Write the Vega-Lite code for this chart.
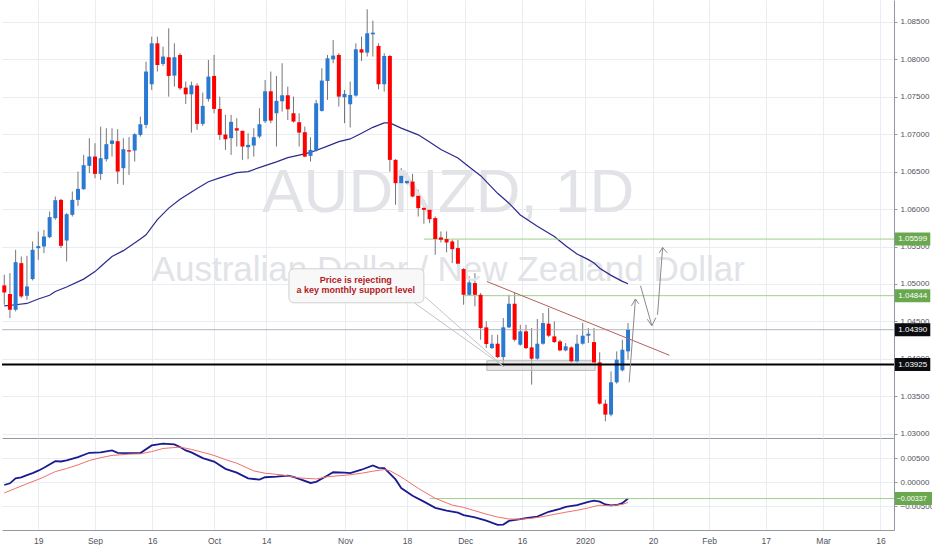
{
"$schema": "https://vega.github.io/schema/vega-lite/v6.json",
"padding": 0,
"background": "#ffffff",
"spacing": 0,
"config": {"view": {"stroke": null}, "font": "Liberation Sans", "scale": {"continuousPadding": 0}},
"datasets": {
"candles": [
{"t":-6,"o":1.04981,"h":1.05123,"l":1.04723,"c":1.04887},
{"t":-5,"o":1.04865,"h":1.05145,"l":1.04545,"c":1.04656},
{"t":-4,"o":1.04656,"h":1.05456,"l":1.04634,"c":1.05291},
{"t":-3,"o":1.05278,"h":1.05367,"l":1.04812,"c":1.04834},
{"t":-2,"o":1.04843,"h":1.05376,"l":1.04789,"c":1.04967},
{"t":-1,"o":1.05065,"h":1.05567,"l":1.05047,"c":1.05456},
{"t":0,"o":1.05478,"h":1.057,"l":1.05323,"c":1.05505},
{"t":1,"o":1.055,"h":1.05722,"l":1.05412,"c":1.05634},
{"t":2,"o":1.05625,"h":1.05967,"l":1.05611,"c":1.05892},
{"t":3,"o":1.05878,"h":1.06167,"l":1.05856,"c":1.06118},
{"t":4,"o":1.06122,"h":1.06136,"l":1.05478,"c":1.05509},
{"t":5,"o":1.0558,"h":1.05945,"l":1.053,"c":1.05931},
{"t":6,"o":1.05923,"h":1.06234,"l":1.059,"c":1.06122},
{"t":7,"o":1.06122,"h":1.065,"l":1.06043,"c":1.06269},
{"t":8,"o":1.06265,"h":1.06723,"l":1.06256,"c":1.06585},
{"t":9,"o":1.06576,"h":1.06945,"l":1.06478,"c":1.067},
{"t":10,"o":1.067,"h":1.06878,"l":1.06411,"c":1.06469},
{"t":11,"o":1.06469,"h":1.071,"l":1.06389,"c":1.06678},
{"t":12,"o":1.06665,"h":1.07078,"l":1.06634,"c":1.06865},
{"t":13,"o":1.06869,"h":1.07078,"l":1.067,"c":1.06914},
{"t":14,"o":1.06905,"h":1.07065,"l":1.06336,"c":1.065},
{"t":15,"o":1.06545,"h":1.06945,"l":1.06323,"c":1.06798},
{"t":16,"o":1.06785,"h":1.06958,"l":1.06456,"c":1.06767},
{"t":17,"o":1.0678,"h":1.07011,"l":1.06634,"c":1.06998},
{"t":18,"o":1.06989,"h":1.07233,"l":1.06967,"c":1.07131},
{"t":19,"o":1.07123,"h":1.07967,"l":1.07078,"c":1.07834},
{"t":20,"o":1.07665,"h":1.083,"l":1.07589,"c":1.08211},
{"t":21,"o":1.08211,"h":1.083,"l":1.07834,"c":1.07922},
{"t":22,"o":1.07936,"h":1.08167,"l":1.07909,"c":1.08034},
{"t":23,"o":1.08025,"h":1.08411,"l":1.075,"c":1.07776},
{"t":24,"o":1.0778,"h":1.08211,"l":1.07634,"c":1.08025},
{"t":25,"o":1.08056,"h":1.08078,"l":1.07589,"c":1.07611},
{"t":26,"o":1.0762,"h":1.077,"l":1.07402,"c":1.07531},
{"t":27,"o":1.07531,"h":1.077,"l":1.0702,"c":1.07651},
{"t":28,"o":1.07647,"h":1.07678,"l":1.07056,"c":1.07136},
{"t":29,"o":1.07136,"h":1.07554,"l":1.07109,"c":1.07376},
{"t":30,"o":1.07469,"h":1.07989,"l":1.07434,"c":1.07767},
{"t":31,"o":1.07776,"h":1.08056,"l":1.07278,"c":1.07336},
{"t":32,"o":1.07336,"h":1.075,"l":1.06922,"c":1.06989},
{"t":33,"o":1.06994,"h":1.07256,"l":1.06789,"c":1.06931},
{"t":34,"o":1.06945,"h":1.07256,"l":1.06722,"c":1.07163},
{"t":35,"o":1.07078,"h":1.07211,"l":1.06834,"c":1.07047},
{"t":36,"o":1.07043,"h":1.07047,"l":1.06656,"c":1.06834},
{"t":37,"o":1.06825,"h":1.07011,"l":1.06665,"c":1.06856},
{"t":38,"o":1.06847,"h":1.07078,"l":1.067,"c":1.06958},
{"t":39,"o":1.06967,"h":1.07345,"l":1.06945,"c":1.07131},
{"t":40,"o":1.07171,"h":1.07722,"l":1.07145,"c":1.07571},
{"t":41,"o":1.07571,"h":1.07834,"l":1.07145,"c":1.0718},
{"t":42,"o":1.07278,"h":1.07776,"l":1.06834,"c":1.07443},
{"t":43,"o":1.07438,"h":1.07945,"l":1.073,"c":1.07518},
{"t":44,"o":1.07518,"h":1.07634,"l":1.07189,"c":1.07331},
{"t":45,"o":1.07278,"h":1.075,"l":1.07154,"c":1.07167},
{"t":46,"o":1.07158,"h":1.07278,"l":1.06834,"c":1.0702},
{"t":47,"o":1.07025,"h":1.071,"l":1.06691,"c":1.067},
{"t":48,"o":1.06709,"h":1.06958,"l":1.06634,"c":1.06789},
{"t":49,"o":1.0678,"h":1.07456,"l":1.06767,"c":1.07411},
{"t":50,"o":1.07309,"h":1.07878,"l":1.073,"c":1.07714},
{"t":51,"o":1.07709,"h":1.08056,"l":1.07456,"c":1.08011},
{"t":52,"o":1.07998,"h":1.08256,"l":1.07945,"c":1.08047},
{"t":53,"o":1.08056,"h":1.08078,"l":1.07367,"c":1.075},
{"t":54,"o":1.07491,"h":1.07589,"l":1.07145,"c":1.07536},
{"t":55,"o":1.07398,"h":1.077,"l":1.07087,"c":1.07522},
{"t":56,"o":1.07514,"h":1.08211,"l":1.075,"c":1.08131},
{"t":57,"o":1.08131,"h":1.083,"l":1.07976,"c":1.08087},
{"t":58,"o":1.08087,"h":1.08665,"l":1.08034,"c":1.08345},
{"t":59,"o":1.08331,"h":1.08513,"l":1.08034,"c":1.08353},
{"t":60,"o":1.08176,"h":1.08211,"l":1.07598,"c":1.07665},
{"t":61,"o":1.07665,"h":1.08078,"l":1.07567,"c":1.08042},
{"t":62,"o":1.08042,"h":1.08056,"l":1.065,"c":1.06656},
{"t":63,"o":1.06656,"h":1.06665,"l":1.06056,"c":1.06345},
{"t":64,"o":1.06345,"h":1.06545,"l":1.06256,"c":1.06443},
{"t":65,"o":1.06345,"h":1.06478,"l":1.0633,"c":1.06376},
{"t":66,"o":1.06367,"h":1.06469,"l":1.06158,"c":1.06167},
{"t":67,"o":1.06176,"h":1.06256,"l":1.059,"c":1.06012},
{"t":68,"o":1.06016,"h":1.06123,"l":1.05803,"c":1.05989},
{"t":69,"o":1.0599,"h":1.06056,"l":1.05812,"c":1.05865},
{"t":70,"o":1.05879,"h":1.05901,"l":1.0539,"c":1.05599},
{"t":71,"o":1.05621,"h":1.05701,"l":1.05554,"c":1.0559},
{"t":72,"o":1.05599,"h":1.05701,"l":1.05421,"c":1.05554},
{"t":73,"o":1.05567,"h":1.0559,"l":1.05279,"c":1.05465},
{"t":74,"o":1.05479,"h":1.0559,"l":1.05234,"c":1.0527},
{"t":75,"o":1.05199,"h":1.05212,"l":1.04723,"c":1.04856},
{"t":76,"o":1.04856,"h":1.05101,"l":1.0484,"c":1.05021},
{"t":77,"o":1.05012,"h":1.05145,"l":1.04701,"c":1.04856},
{"t":78,"o":1.04856,"h":1.04879,"l":1.04256,"c":1.04412},
{"t":79,"o":1.04421,"h":1.04501,"l":1.04145,"c":1.04199},
{"t":80,"o":1.04145,"h":1.04323,"l":1.04132,"c":1.04203},
{"t":81,"o":1.04203,"h":1.04323,"l":1.04012,"c":1.04025},
{"t":82,"o":1.04025,"h":1.04545,"l":1.03901,"c":1.04421},
{"t":83,"o":1.04421,"h":1.04856,"l":1.04412,"c":1.04736},
{"t":84,"o":1.04736,"h":1.04879,"l":1.04234,"c":1.04256},
{"t":85,"o":1.0419,"h":1.04456,"l":1.04176,"c":1.04368},
{"t":86,"o":1.04368,"h":1.04456,"l":1.04132,"c":1.04145},
{"t":87,"o":1.04154,"h":1.04412,"l":1.03657,"c":1.04003},
{"t":88,"o":1.04003,"h":1.04532,"l":1.0399,"c":1.04203},
{"t":89,"o":1.04203,"h":1.04612,"l":1.0419,"c":1.04479},
{"t":90,"o":1.0447,"h":1.04679,"l":1.04292,"c":1.0431},
{"t":91,"o":1.04301,"h":1.04501,"l":1.04212,"c":1.04225},
{"t":92,"o":1.04234,"h":1.04256,"l":1.04101,"c":1.04114},
{"t":93,"o":1.04114,"h":1.04212,"l":1.04101,"c":1.04168},
{"t":94,"o":1.04154,"h":1.04168,"l":1.03945,"c":1.03968},
{"t":95,"o":1.03968,"h":1.04323,"l":1.03945,"c":1.04203},
{"t":96,"o":1.04203,"h":1.04479,"l":1.0419,"c":1.0431},
{"t":97,"o":1.0431,"h":1.04412,"l":1.04212,"c":1.04336},
{"t":98,"o":1.04225,"h":1.04412,"l":1.03945,"c":1.03954},
{"t":99,"o":1.03954,"h":1.04088,"l":1.0339,"c":1.03403},
{"t":100,"o":1.03403,"h":1.03457,"l":1.03168,"c":1.03257},
{"t":101,"o":1.03257,"h":1.03834,"l":1.03234,"c":1.03688},
{"t":102,"o":1.03688,"h":1.04101,"l":1.0367,"c":1.0399},
{"t":103,"o":1.03848,"h":1.04256,"l":1.03834,"c":1.04123},
{"t":104,"o":1.04101,"h":1.04479,"l":1.0399,"c":1.0439}
],
"ma": [
{"t":-6,"v":1.04709},{"t":-4,"v":1.04723},{"t":-2,"v":1.0474},{"t":0,"v":1.048},{"t":2,"v":1.0485},{"t":3,"v":1.049},{"t":5,"v":1.0496},{"t":8,"v":1.05065},{"t":10,"v":1.05165},{"t":11,"v":1.05234},{"t":13,"v":1.05367},{"t":15,"v":1.05445},{"t":18,"v":1.056},{"t":19,"v":1.05656},{"t":21,"v":1.0586},{"t":23,"v":1.06012},{"t":25,"v":1.0613},{"t":28,"v":1.06275},{"t":30,"v":1.06365},{"t":32,"v":1.06415},{"t":35,"v":1.06485},{"t":37,"v":1.065},{"t":40,"v":1.0658},{"t":42,"v":1.0663},{"t":44,"v":1.06685},{"t":46,"v":1.0672},{"t":48,"v":1.06755},{"t":51,"v":1.0684},{"t":53,"v":1.069},{"t":55,"v":1.06935},{"t":57,"v":1.07011},{"t":59,"v":1.0709},{"t":61,"v":1.0715},{"t":62,"v":1.0715},{"t":64,"v":1.0708},{"t":67,"v":1.0699},{"t":69,"v":1.06895},{"t":71,"v":1.06795},{"t":74,"v":1.0668},{"t":76,"v":1.0656},{"t":78,"v":1.06445},{"t":81,"v":1.0621},{"t":83,"v":1.06078},{"t":85,"v":1.0592},{"t":88,"v":1.0577},{"t":91,"v":1.05634},{"t":93,"v":1.0551},{"t":95,"v":1.054},{"t":97,"v":1.05325},{"t":98,"v":1.0528},{"t":99,"v":1.0521},{"t":101,"v":1.05115},{"t":103,"v":1.05035},{"t":104,"v":1.05003}
],
"macd": [
{"t":-6,"v":-0.00056},{"t":-5,"v":-0.00021},{"t":-4,"v":0.00083},{"t":-3,"v":0.00104},{"t":-2,"v":0.0015},{"t":-1,"v":0.0019},{"t":0,"v":0.0024},{"t":1,"v":0.003},{"t":3,"v":0.00438},{"t":4,"v":0.00431},{"t":5,"v":0.00455},{"t":7,"v":0.00521},{"t":9,"v":0.00611},{"t":11,"v":0.00618},{"t":13,"v":0.0066},{"t":14,"v":0.00611},{"t":16,"v":0.00604},{"t":18,"v":0.00604},{"t":20,"v":0.00764},{"t":22,"v":0.00799},{"t":24,"v":0.00785},{"t":25,"v":0.00729},{"t":26,"v":0.0066},{"t":27,"v":0.0062},{"t":29,"v":0.005},{"t":31,"v":0.0043},{"t":33,"v":0.00278},{"t":35,"v":0.002},{"t":37,"v":0.0008},{"t":39,"v":0.00056},{"t":40,"v":0.00104},{"t":42,"v":0.00118},{"t":44,"v":0.00139},{"t":45,"v":0.0011},{"t":46,"v":0.0007},{"t":48,"v":-0.00014},{"t":49,"v":0.0001},{"t":51,"v":0.00139},{"t":52,"v":0.00208},{"t":54,"v":0.00201},{"t":55,"v":0.00188},{"t":57,"v":0.0026},{"t":59,"v":0.00347},{"t":60,"v":0.00299},{"t":61,"v":0.00292},{"t":62,"v":0.0018},{"t":63,"v":0.0006},{"t":64,"v":-0.0012},{"t":66,"v":-0.00278},{"t":68,"v":-0.004},{"t":70,"v":-0.00528},{"t":72,"v":-0.00585},{"t":74,"v":-0.0063},{"t":75,"v":-0.0068},{"t":77,"v":-0.00725},{"t":79,"v":-0.00795},{"t":81,"v":-0.0088},{"t":82,"v":-0.00875},{"t":83,"v":-0.008},{"t":85,"v":-0.00764},{"t":86,"v":-0.0074},{"t":88,"v":-0.0071},{"t":90,"v":-0.00611},{"t":92,"v":-0.0055},{"t":93,"v":-0.0051},{"t":95,"v":-0.00475},{"t":97,"v":-0.00405},{"t":98,"v":-0.00382},{"t":99,"v":-0.004},{"t":100,"v":-0.0046},{"t":101,"v":-0.0048},{"t":102,"v":-0.0047},{"t":103,"v":-0.00431},{"t":104,"v":-0.00337}
],
"signal": [
{"t":-6,"v":-0.00222},{"t":-4,"v":-0.00125},{"t":-2,"v":-0.0003},{"t":0,"v":0.0006},{"t":1,"v":0.0011},{"t":3,"v":0.00222},{"t":5,"v":0.00285},{"t":7,"v":0.00361},{"t":9,"v":0.0045},{"t":11,"v":0.0051},{"t":13,"v":0.00556},{"t":16,"v":0.00583},{"t":18,"v":0.0059},{"t":20,"v":0.00635},{"t":22,"v":0.007},{"t":25,"v":0.00729},{"t":27,"v":0.00681},{"t":29,"v":0.0062},{"t":31,"v":0.00556},{"t":33,"v":0.0047},{"t":35,"v":0.00395},{"t":38,"v":0.00235},{"t":40,"v":0.00188},{"t":43,"v":0.00153},{"t":46,"v":0.0009},{"t":49,"v":0.00069},{"t":51,"v":0.00115},{"t":55,"v":0.00155},{"t":57,"v":0.00188},{"t":59,"v":0.00229},{"t":61,"v":0.00264},{"t":62,"v":0.0024},{"t":64,"v":0.0011},{"t":67,"v":-0.00125},{"t":70,"v":-0.00333},{"t":73,"v":-0.00472},{"t":75,"v":-0.0052},{"t":77,"v":-0.0059},{"t":79,"v":-0.0066},{"t":81,"v":-0.0072},{"t":83,"v":-0.0076},{"t":85,"v":-0.00765},{"t":87,"v":-0.00745},{"t":89,"v":-0.0071},{"t":91,"v":-0.00665},{"t":93,"v":-0.0062},{"t":95,"v":-0.0058},{"t":97,"v":-0.0053},{"t":98,"v":-0.005},{"t":99,"v":-0.00475},{"t":101,"v":-0.00486},{"t":103,"v":-0.00458},{"t":104,"v":-0.00417}
]
},
"vconcat": [
{
"width": 892,
"height": 438,
"encoding": {
"x": {"field": "t", "type": "quantitative", "scale": {"domain": [-6.4, 150.9], "nice": false, "zero": false, "padding": 0},
"axis": {"title": null, "labels": false, "ticks": false, "domain": true, "domainColor": "#9598a1", "grid": true, "gridColor": "#e9ecf1", "values": [0, 10, 20.1, 31, 40.2, 54.1, 65, 75.3, 85.3, 96.4, 108.4, 118.3, 128.3, 138.4, 148.5]}}
},
"layer": [
{
"data": {"name": "candles"},
"mark": {"type": "rule", "color": "#767678", "strokeWidth": 1},
"encoding": {
"y": {"field": "l", "type": "quantitative", "scale": {"domain": [1.02945, 1.08789], "nice": false, "zero": false, "padding": 0},
"axis": {"title": null, "orient": "right", "values": [1.03, 1.035, 1.04, 1.045, 1.05, 1.055, 1.06, 1.065, 1.07, 1.075, 1.08, 1.085], "format": ".5f", "labelOverlap": false, "labelFontSize": 8, "labelColor": "#50535e", "tickSize": 3, "tickColor": "#9598a1", "domainColor": "#9598a1", "grid": true, "gridColor": "#e9ecf1", "labelPadding": 3}},
"y2": {"field": "h"}
}
},
{
"data": {"values": [{"t": 72.3, "p": 1.05963, "txt": "AUDNZD, 1D"}]},
"mark": {"type": "text", "fontSize": 62, "color": "#e1e3e7", "baseline": "alphabetic", "align": "center"},
"encoding": {"y": {"field": "p", "type": "quantitative", "scale": {"domain": [1.02945, 1.08789], "nice": false, "zero": false, "padding": 0}, "axis": {"title": null, "orient": "right", "values": [1.03, 1.035, 1.04, 1.045, 1.05, 1.055, 1.06, 1.065, 1.07, 1.075, 1.08, 1.085], "format": ".5f", "labelOverlap": false, "labelFontSize": 8, "labelColor": "#50535e", "tickSize": 3, "tickColor": "#9598a1", "domainColor": "#9598a1", "grid": true, "gridColor": "#e9ecf1", "labelPadding": 3}}, "text": {"field": "txt"}}
},
{
"data": {"values": [{"t": 72.3, "p": 1.05043, "txt": "Australian Dollar / New Zealand Dollar"}]},
"mark": {"type": "text", "fontSize": 35, "color": "#e1e3e7", "baseline": "alphabetic", "align": "center"},
"encoding": {"y": {"field": "p", "type": "quantitative", "scale": {"domain": [1.02945, 1.08789], "nice": false, "zero": false, "padding": 0}, "axis": {"title": null, "orient": "right", "values": [1.03, 1.035, 1.04, 1.045, 1.05, 1.055, 1.06, 1.065, 1.07, 1.075, 1.08, 1.085], "format": ".5f", "labelOverlap": false, "labelFontSize": 8, "labelColor": "#50535e", "tickSize": 3, "tickColor": "#9598a1", "domainColor": "#9598a1", "grid": true, "gridColor": "#e9ecf1", "labelPadding": 3}}, "text": {"field": "txt"}}
},
{
"data": {"name": "ma"},
"mark": {"type": "line", "color": "#2d2a8c", "strokeWidth": 1.2},
"encoding": {"y": {"field": "v", "type": "quantitative", "scale": {"domain": [1.02945, 1.08789], "nice": false, "zero": false, "padding": 0}, "axis": {"title": null, "orient": "right", "values": [1.03, 1.035, 1.04, 1.045, 1.05, 1.055, 1.06, 1.065, 1.07, 1.075, 1.08, 1.085], "format": ".5f", "labelOverlap": false, "labelFontSize": 8, "labelColor": "#50535e", "tickSize": 3, "tickColor": "#9598a1", "domainColor": "#9598a1", "grid": true, "gridColor": "#e9ecf1", "labelPadding": 3}}}
},
{
"data": {"values": [{"t": -6.4, "t2": 150.9, "p": 1.0439}]},
"mark": {"type": "rule", "color": "#b2b5be", "strokeWidth": 1},
"encoding": {"x2": {"field": "t2"}, "y": {"field": "p", "type": "quantitative", "scale": {"domain": [1.02945, 1.08789], "nice": false, "zero": false, "padding": 0}, "axis": {"title": null, "orient": "right", "values": [1.03, 1.035, 1.04, 1.045, 1.05, 1.055, 1.06, 1.065, 1.07, 1.075, 1.08, 1.085], "format": ".5f", "labelOverlap": false, "labelFontSize": 8, "labelColor": "#50535e", "tickSize": 3, "tickColor": "#9598a1", "domainColor": "#9598a1", "grid": true, "gridColor": "#e9ecf1", "labelPadding": 3}}}
},
{
"data": {"values": [{"t": 68, "t2": 150.9, "p": 1.05599}, {"t": 75, "t2": 150.9, "p": 1.04844}]},
"mark": {"type": "rule", "color": "#9fcf8c", "strokeWidth": 1},
"encoding": {"x2": {"field": "t2"}, "y": {"field": "p", "type": "quantitative", "scale": {"domain": [1.02945, 1.08789], "nice": false, "zero": false, "padding": 0}, "axis": {"title": null, "orient": "right", "values": [1.03, 1.035, 1.04, 1.045, 1.05, 1.055, 1.06, 1.065, 1.07, 1.075, 1.08, 1.085], "format": ".5f", "labelOverlap": false, "labelFontSize": 8, "labelColor": "#50535e", "tickSize": 3, "tickColor": "#9598a1", "domainColor": "#9598a1", "grid": true, "gridColor": "#e9ecf1", "labelPadding": 3}}}
},
{
"data": {"values": [{"t": 79.1, "t2": 98.2, "p": 1.03976, "p2": 1.03847}]},
"mark": {"type": "rect", "fill": "#d6d6d6", "fillOpacity": 0.55, "stroke": "#b9b9b9", "strokeWidth": 1},
"encoding": {"x2": {"field": "t2"}, "y": {"field": "p", "type": "quantitative", "scale": {"domain": [1.02945, 1.08789], "nice": false, "zero": false, "padding": 0}, "axis": {"title": null, "orient": "right", "values": [1.03, 1.035, 1.04, 1.045, 1.05, 1.055, 1.06, 1.065, 1.07, 1.075, 1.08, 1.085], "format": ".5f", "labelOverlap": false, "labelFontSize": 8, "labelColor": "#50535e", "tickSize": 3, "tickColor": "#9598a1", "domainColor": "#9598a1", "grid": true, "gridColor": "#e9ecf1", "labelPadding": 3}}, "y2": {"field": "p2"}}
},
{
"data": {"name": "candles"},
"mark": {"type": "bar", "orient": "vertical", "width": 4},
"encoding": {
"y": {"field": "o", "type": "quantitative", "scale": {"domain": [1.02945, 1.08789], "nice": false, "zero": false, "padding": 0}, "axis": {"title": null, "orient": "right", "values": [1.03, 1.035, 1.04, 1.045, 1.05, 1.055, 1.06, 1.065, 1.07, 1.075, 1.08, 1.085], "format": ".5f", "labelOverlap": false, "labelFontSize": 8, "labelColor": "#50535e", "tickSize": 3, "tickColor": "#9598a1", "domainColor": "#9598a1", "grid": true, "gridColor": "#e9ecf1", "labelPadding": 3}},
"y2": {"field": "c"},
"color": {"condition": {"test": "datum.c >= datum.o", "value": "#2a7ad4"}, "value": "#ff0000"}
}
},
{
"data": {"values": [{"t": -6.4, "t2": 150.9, "p": 1.03925}]},
"mark": {"type": "rule", "color": "#000000", "strokeWidth": 2},
"encoding": {"x2": {"field": "t2"}, "y": {"field": "p", "type": "quantitative", "scale": {"domain": [1.02945, 1.08789], "nice": false, "zero": false, "padding": 0}, "axis": {"title": null, "orient": "right", "values": [1.03, 1.035, 1.04, 1.045, 1.05, 1.055, 1.06, 1.065, 1.07, 1.075, 1.08, 1.085], "format": ".5f", "labelOverlap": false, "labelFontSize": 8, "labelColor": "#50535e", "tickSize": 3, "tickColor": "#9598a1", "domainColor": "#9598a1", "grid": true, "gridColor": "#e9ecf1", "labelPadding": 3}}}
},
{
"data": {"values": [{"t": 79.1, "p": 1.05033, "t2": 111.3, "p2": 1.04049}]},
"mark": {"type": "rule", "color": "#b5605c", "strokeWidth": 1},
"encoding": {"x2": {"field": "t2"}, "y": {"field": "p", "type": "quantitative", "scale": {"domain": [1.02945, 1.08789], "nice": false, "zero": false, "padding": 0}, "axis": {"title": null, "orient": "right", "values": [1.03, 1.035, 1.04, 1.045, 1.05, 1.055, 1.06, 1.065, 1.07, 1.075, 1.08, 1.085], "format": ".5f", "labelOverlap": false, "labelFontSize": 8, "labelColor": "#50535e", "tickSize": 3, "tickColor": "#9598a1", "domainColor": "#9598a1", "grid": true, "gridColor": "#e9ecf1", "labelPadding": 3}}, "y2": {"field": "p2"}}
},
{
"data": {"values": [{"t": 66.3, "p": 1.04749, "t2": 82.1, "p2": 1.03896}, {"t": 68.2, "p": 1.04829, "t2": 82.1, "p2": 1.03896}]},
"mark": {"type": "rule", "color": "#c4c4c4", "strokeWidth": 1},
"encoding": {"x2": {"field": "t2"}, "y": {"field": "p", "type": "quantitative", "scale": {"domain": [1.02945, 1.08789], "nice": false, "zero": false, "padding": 0}, "axis": {"title": null, "orient": "right", "values": [1.03, 1.035, 1.04, 1.045, 1.05, 1.055, 1.06, 1.065, 1.07, 1.075, 1.08, 1.085], "format": ".5f", "labelOverlap": false, "labelFontSize": 8, "labelColor": "#50535e", "tickSize": 3, "tickColor": "#9598a1", "domainColor": "#9598a1", "grid": true, "gridColor": "#e9ecf1", "labelPadding": 3}}, "y2": {"field": "p2"}}
},
{
"data": {"values": [{"t": 44.2, "t2": 68.0, "p": 1.05203, "p2": 1.04749}]},
"mark": {"type": "rect", "fill": "#f8f8f8", "stroke": "#d0d0d0", "strokeWidth": 1, "cornerRadius": 5},
"encoding": {"x2": {"field": "t2"}, "y": {"field": "p", "type": "quantitative", "scale": {"domain": [1.02945, 1.08789], "nice": false, "zero": false, "padding": 0}, "axis": {"title": null, "orient": "right", "values": [1.03, 1.035, 1.04, 1.045, 1.05, 1.055, 1.06, 1.065, 1.07, 1.075, 1.08, 1.085], "format": ".5f", "labelOverlap": false, "labelFontSize": 8, "labelColor": "#50535e", "tickSize": 3, "tickColor": "#9598a1", "domainColor": "#9598a1", "grid": true, "gridColor": "#e9ecf1", "labelPadding": 3}}, "y2": {"field": "p2"}}
},
{
"data": {"values": [{"t": 56.0, "p": 1.05059, "txt": "Price is rejecting"}, {"t": 56.0, "p": 1.04925, "txt": "a key monthly support level"}]},
"mark": {"type": "text", "color": "#b3191f", "fontSize": 9, "fontWeight": "bold", "align": "center", "baseline": "middle"},
"encoding": {"y": {"field": "p", "type": "quantitative", "scale": {"domain": [1.02945, 1.08789], "nice": false, "zero": false, "padding": 0}, "axis": {"title": null, "orient": "right", "values": [1.03, 1.035, 1.04, 1.045, 1.05, 1.055, 1.06, 1.065, 1.07, 1.075, 1.08, 1.085], "format": ".5f", "labelOverlap": false, "labelFontSize": 8, "labelColor": "#50535e", "tickSize": 3, "tickColor": "#9598a1", "domainColor": "#9598a1", "grid": true, "gridColor": "#e9ecf1", "labelPadding": 3}}, "text": {"field": "txt"}}
},
{
"data": {"values": [
{"t": 104.2, "p": 1.03687, "t2": 105.3, "p2": 1.04799},
{"t": 104.6, "p": 1.04709, "t2": 105.3, "p2": 1.04799},
{"t": 105.9, "p": 1.04736, "t2": 105.3, "p2": 1.04799},
{"t": 106.2, "p": 1.04976, "t2": 108.2, "p2": 1.04443},
{"t": 107.4, "p": 1.04529, "t2": 108.2, "p2": 1.04443},
{"t": 108.9, "p": 1.04549, "t2": 108.2, "p2": 1.04443},
{"t": 109.2, "p": 1.04589, "t2": 110.1, "p2": 1.05487},
{"t": 109.5, "p": 1.05416, "t2": 110.1, "p2": 1.05487},
{"t": 110.9, "p": 1.05416, "t2": 110.1, "p2": 1.05487}
]},
"mark": {"type": "rule", "color": "#8a8a8e", "strokeWidth": 1},
"encoding": {"x2": {"field": "t2"}, "y": {"field": "p", "type": "quantitative", "scale": {"domain": [1.02945, 1.08789], "nice": false, "zero": false, "padding": 0}, "axis": {"title": null, "orient": "right", "values": [1.03, 1.035, 1.04, 1.045, 1.05, 1.055, 1.06, 1.065, 1.07, 1.075, 1.08, 1.085], "format": ".5f", "labelOverlap": false, "labelFontSize": 8, "labelColor": "#50535e", "tickSize": 3, "tickColor": "#9598a1", "domainColor": "#9598a1", "grid": true, "gridColor": "#e9ecf1", "labelPadding": 3}}, "y2": {"field": "p2"}}
},
{
"data": {"values": [{"t": 151.05, "t2": 157.3, "p": 1.05599, "k": "g"}, {"t": 151.05, "t2": 157.3, "p": 1.04844, "k": "g"}, {"t": 151.05, "t2": 157.3, "p": 1.0439, "k": "b"}, {"t": 151.05, "t2": 157.3, "p": 1.03925, "k": "b"}]},
"mark": {"type": "bar", "orient": "horizontal", "height": 13},
"encoding": {
"x2": {"field": "t2"},
"y": {"field": "p", "type": "quantitative", "scale": {"domain": [1.02945, 1.08789], "nice": false, "zero": false, "padding": 0}, "axis": {"title": null, "orient": "right", "values": [1.03, 1.035, 1.04, 1.045, 1.05, 1.055, 1.06, 1.065, 1.07, 1.075, 1.08, 1.085], "format": ".5f", "labelOverlap": false, "labelFontSize": 8, "labelColor": "#50535e", "tickSize": 3, "tickColor": "#9598a1", "domainColor": "#9598a1", "grid": true, "gridColor": "#e9ecf1", "labelPadding": 3}},
"color": {"field": "k", "type": "nominal", "scale": {"domain": ["g", "b"], "range": ["#6aa84f", "#0c0c10"]}, "legend": null}
}
},
{
"data": {"values": [{"t": 154.2, "p": 1.05599, "lab": "1.05599"}, {"t": 154.2, "p": 1.04844, "lab": "1.04844"}, {"t": 154.2, "p": 1.0439, "lab": "1.04390"}, {"t": 154.2, "p": 1.03925, "lab": "1.03925"}]},
"mark": {"type": "text", "color": "#ffffff", "fontSize": 8, "align": "center", "baseline": "middle"},
"encoding": {
"y": {"field": "p", "type": "quantitative", "scale": {"domain": [1.02945, 1.08789], "nice": false, "zero": false, "padding": 0}, "axis": {"title": null, "orient": "right", "values": [1.03, 1.035, 1.04, 1.045, 1.05, 1.055, 1.06, 1.065, 1.07, 1.075, 1.08, 1.085], "format": ".5f", "labelOverlap": false, "labelFontSize": 8, "labelColor": "#50535e", "tickSize": 3, "tickColor": "#9598a1", "domainColor": "#9598a1", "grid": true, "gridColor": "#e9ecf1", "labelPadding": 3}},
"text": {"field": "lab"}
}
}
]
},
{
"width": 892,
"height": 92,
"encoding": {
"x": {"field": "t", "type": "quantitative", "scale": {"domain": [-6.4, 150.9], "nice": false, "zero": false, "padding": 0},
"axis": {"title": null, "orient": "bottom", "ticks": false, "domain": true, "domainColor": "#9598a1", "grid": true, "gridColor": "#e9ecf1", "labelFontSize": 8.5, "labelColor": "#50535e", "labelPadding": 6, "labelOverlap": false,
"values": [0, 10, 20.1, 31, 40.2, 54.1, 65, 75.3, 85.3, 96.4, 108.4, 118.3, 128.3, 138.4, 148.5],
"labelExpr": "datum.value < 5 ? '19' : datum.value < 15 ? 'Sep' : datum.value < 25 ? '16' : datum.value < 35 ? 'Oct' : datum.value < 47 ? '14' : datum.value < 60 ? 'Nov' : datum.value < 70 ? '18' : datum.value < 80 ? 'Dec' : datum.value < 90 ? '16' : datum.value < 100 ? '2020' : datum.value < 113 ? '20' : datum.value < 123 ? 'Feb' : datum.value < 133 ? '17' : datum.value < 143 ? 'Mar' : '16'"}}
},
"layer": [
{
"data": {"name": "macd"},
"mark": {"type": "line", "color": "#1b1a8f", "strokeWidth": 1.8},
"encoding": {"y": {"field": "v", "type": "quantitative", "scale": {"domain": [-0.00988, 0.00917], "nice": false, "zero": false, "padding": 0},
"axis": {"title": null, "orient": "right", "values": [0.005, 0, -0.005], "format": ".5f", "labelOverlap": false, "labelFontSize": 8, "labelColor": "#50535e", "tickSize": 3, "tickColor": "#9598a1", "domainColor": "#9598a1", "grid": true, "gridColor": "#e9ecf1", "labelPadding": 3}}}
},
{
"data": {"values": [{"t": 69, "t2": 150.9, "v": -0.00337}]},
"mark": {"type": "rule", "color": "#9fcf8c", "strokeWidth": 1},
"encoding": {"x2": {"field": "t2"}, "y": {"field": "v", "type": "quantitative", "axis": {"title": null, "orient": "right", "values": [0.005, 0, -0.005], "format": ".5f", "labelOverlap": false, "labelFontSize": 8, "labelColor": "#50535e", "tickSize": 3, "tickColor": "#9598a1", "domainColor": "#9598a1", "grid": true, "gridColor": "#e9ecf1", "labelPadding": 3}}}
},
{
"data": {"name": "signal"},
"mark": {"type": "line", "color": "#f0706a", "strokeWidth": 1},
"encoding": {"y": {"field": "v", "type": "quantitative", "axis": {"title": null, "orient": "right", "values": [0.005, 0, -0.005], "format": ".5f", "labelOverlap": false, "labelFontSize": 8, "labelColor": "#50535e", "tickSize": 3, "tickColor": "#9598a1", "domainColor": "#9598a1", "grid": true, "gridColor": "#e9ecf1", "labelPadding": 3}}}
},
{
"data": {"values": [{"t": 151.05, "t2": 157.6, "v": -0.00337}]},
"mark": {"type": "bar", "orient": "horizontal", "height": 13, "color": "#6aa84f"},
"encoding": {
"x2": {"field": "t2"},
"y": {"field": "v", "type": "quantitative", "axis": {"title": null, "orient": "right", "values": [0.005, 0, -0.005], "format": ".5f", "labelOverlap": false, "labelFontSize": 8, "labelColor": "#50535e", "tickSize": 3, "tickColor": "#9598a1", "domainColor": "#9598a1", "grid": true, "gridColor": "#e9ecf1", "labelPadding": 3}}
}
},
{
"data": {"values": [{"t": 154.0, "v": -0.00337, "lab": "−0.00337"}]},
"mark": {"type": "text", "color": "#ffffff", "fontSize": 7.2, "align": "center", "baseline": "middle"},
"encoding": {
"y": {"field": "v", "type": "quantitative", "axis": {"title": null, "orient": "right", "values": [0.005, 0, -0.005], "format": ".5f", "labelOverlap": false, "labelFontSize": 8, "labelColor": "#50535e", "tickSize": 3, "tickColor": "#9598a1", "domainColor": "#9598a1", "grid": true, "gridColor": "#e9ecf1", "labelPadding": 3}},
"text": {"field": "lab"}
}
}
]
}
]
}
